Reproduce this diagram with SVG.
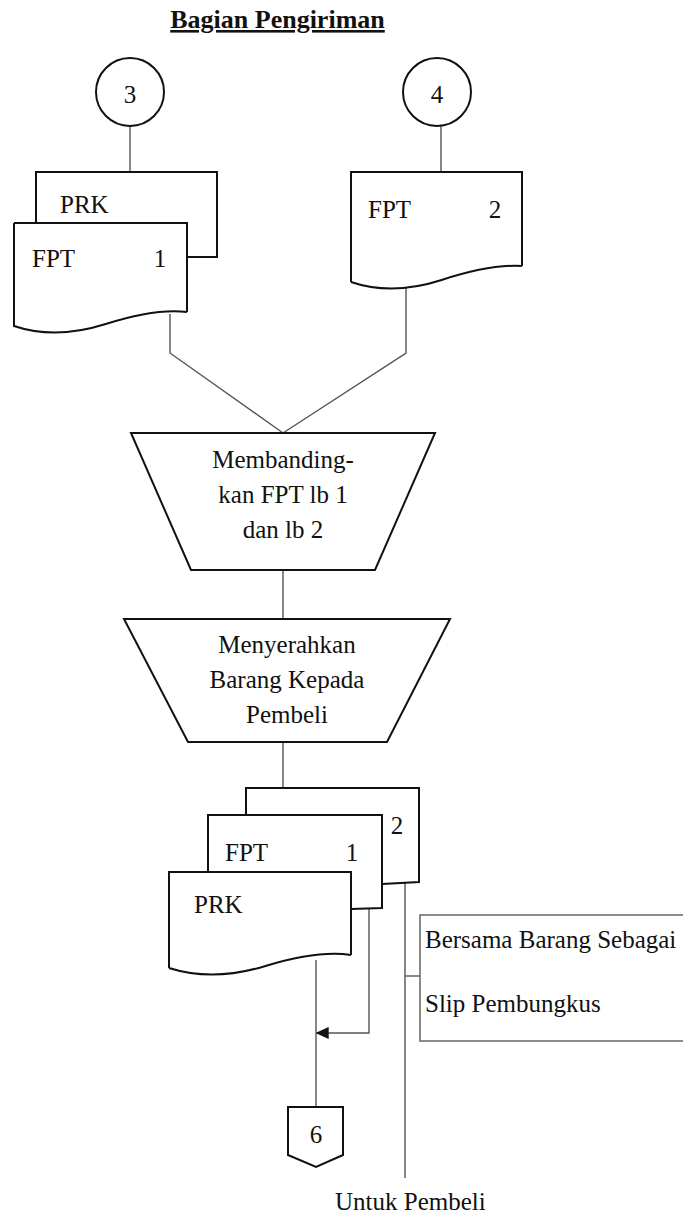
<svg xmlns="http://www.w3.org/2000/svg" width="683" height="1218" viewBox="0 0 683 1218">
<style>
.shape{fill:#fff;stroke:#111;stroke-width:2}
.conn{fill:none;stroke:#555;stroke-width:1.4}
.note{fill:#fff;stroke:#666;stroke-width:1.5}
text{font-family:"Liberation Serif","Times New Roman",serif;font-size:25px;fill:#111}
.c{text-anchor:middle}
.title{font-weight:bold;font-size:26px;text-decoration:underline}
</style>
<defs>
<marker id="arrow" viewBox="0 0 10 10" refX="9" refY="5" markerWidth="13" markerHeight="12" markerUnits="userSpaceOnUse" orient="auto" preserveAspectRatio="none">
<path d="M0,0 L10,5 L0,10 Z" fill="#111"/>
</marker>
</defs>
<rect width="683" height="1218" fill="#fff"/>
<text class="title c" x="277.5" y="28">Bagian Pengiriman</text>

<g id="connectors">
<line class="conn" x1="130" y1="126" x2="130" y2="172"/>
<line class="conn" x1="441" y1="126" x2="441" y2="172"/>
<polyline class="conn" points="170,314 170,353 283,433"/>
<polyline class="conn" points="406,287 406,353 283,433"/>
<line class="conn" x1="283" y1="570" x2="283" y2="619"/>
<line class="conn" x1="283" y1="742" x2="283" y2="788"/>
<line class="conn" x1="316" y1="960" x2="316" y2="1107"/>
<polyline class="conn" points="369,908 369,1033 317,1033" marker-end="url(#arrow)"/>
<line class="conn" x1="405" y1="883" x2="405" y2="1178"/>
<line class="conn" x1="405" y1="976" x2="420" y2="976"/>
</g>

<g id="conn3">
<circle class="shape" cx="130" cy="92" r="34"/>
<text class="c" x="130" y="103">3</text>
</g>
<g id="conn4">
<circle class="shape" cx="437" cy="92" r="34"/>
<text class="c" x="437" y="103">4</text>
</g>

<g id="doc-prk-top">
<path class="shape" d="M36,223 V172 H217 V257 H187"/>
<text x="60" y="213">PRK</text>
</g>
<g id="doc-fpt1-top">
<path class="shape" d="M14,223 H187 V312 M14,223 V326 Q55.5,340 105.7,324 T187,312"/>
<text x="32" y="267">FPT</text>
<text class="c" x="160" y="267">1</text>
</g>
<g id="doc-fpt2-top">
<path class="shape" d="M351,282 V172 H522 V266 M351,282 Q392,296 441.6,280 T522,266"/>
<text x="368" y="218">FPT</text>
<text class="c" x="495" y="218">2</text>
</g>

<g id="proc-membandingkan">
<polygon class="shape" points="131,433 435,433 375,570 191,570"/>
<text class="c" x="283" y="468">Membanding-</text>
<text class="c" x="283" y="503">kan FPT lb 1</text>
<text class="c" x="283" y="538">dan lb 2</text>
</g>

<g id="proc-menyerahkan">
<polygon class="shape" points="124,619 450,619 387,742 188,742"/>
<text class="c" x="287" y="653">Menyerahkan</text>
<text class="c" x="287" y="688">Barang Kepada</text>
<text class="c" x="287" y="723">Pembeli</text>
</g>

<g id="doc-back-2">
<path class="shape" d="M246,815 V788 H419 V882 L382,884"/>
<text class="c" x="397" y="834">2</text>
</g>
<g id="doc-fpt1-bottom">
<path class="shape" d="M208,872 V815 H382 V908 L351,909"/>
<text x="225" y="861">FPT</text>
<text class="c" x="352" y="861">1</text>
</g>
<g id="doc-prk-bottom">
<path class="shape" d="M169,968 V872 H351 V955 M169,968 Q212.7,982 265.5,966 T351,955"/>
<text x="194" y="913">PRK</text>
</g>

<g id="note">
<rect class="note" x="420" y="915" width="300" height="126"/>
<text x="425" y="948">Bersama Barang Sebagai</text>
<text x="425" y="1012">Slip Pembungkus</text>
</g>

<g id="offpage-6">
<polygon class="shape" points="288,1107 343,1107 343,1155 316,1167 288,1155"/>
<text class="c" x="316" y="1143">6</text>
</g>

<text x="335" y="1210">Untuk Pembeli</text>
</svg>
